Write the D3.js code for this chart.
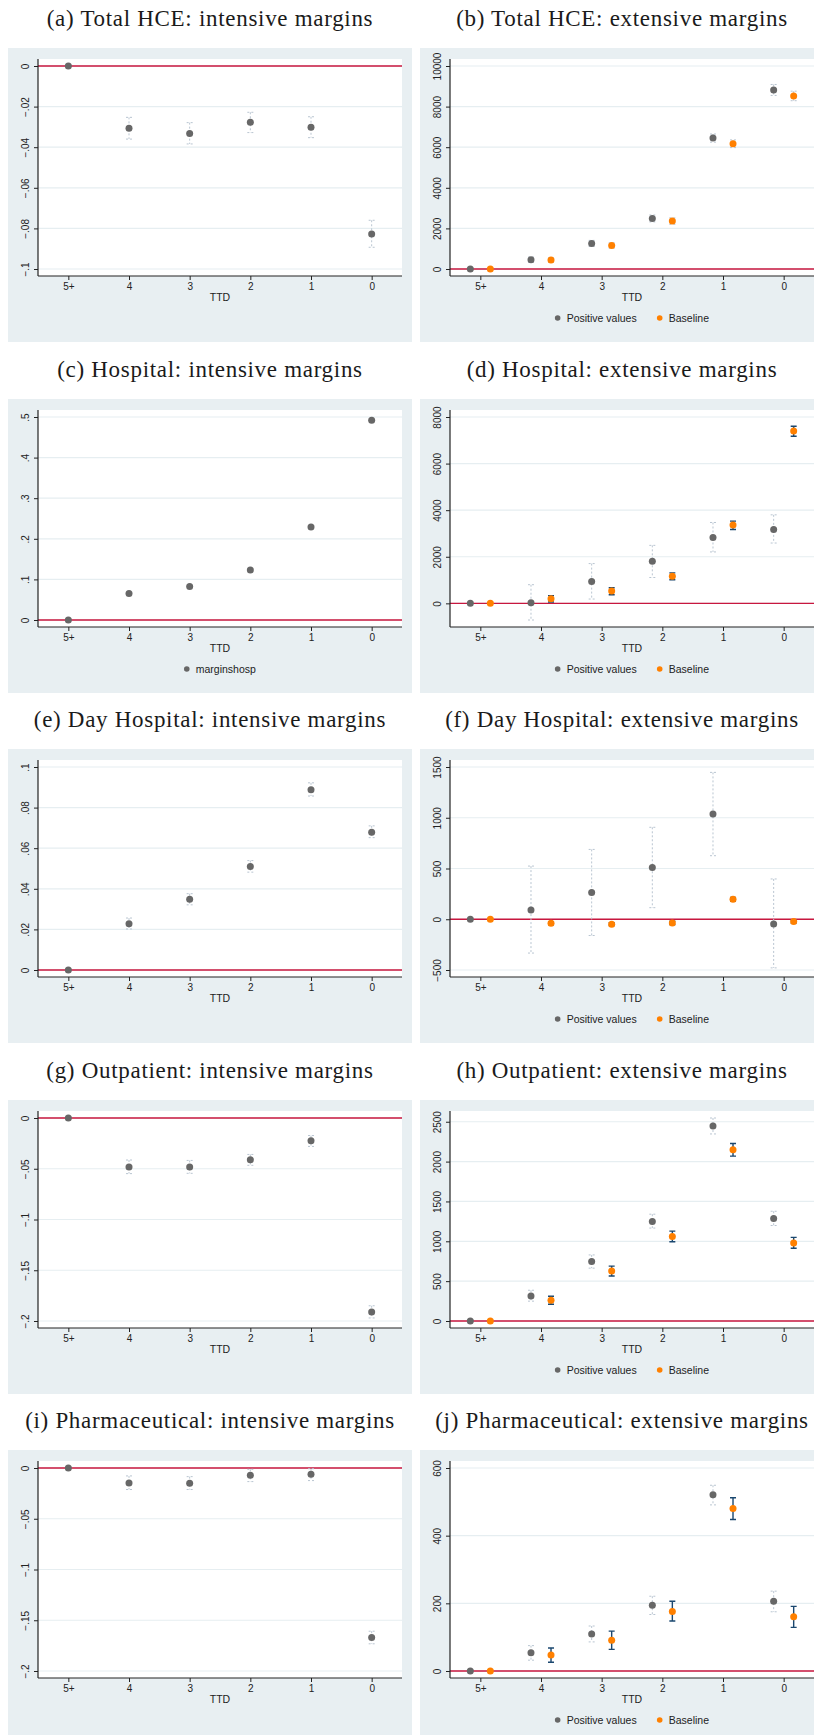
<!DOCTYPE html>
<html>
<head>
<meta charset="utf-8">
<script src="https://cdn.jsdelivr.net/npm/d3@7"></script>
<style>
  body { margin: 0; background: #fff; }
  svg { display: block; }
</style>
</head>
<body>
<div id="chart"></div>
<script>
// categories on the x axis (time to death)
var ttd = ["5+", "4", "3", "2", "1", "0"]

// (a) Total HCE: intensive
var totIntEst = [0, -0.0307, -0.0332, -0.0277, -0.0302, -0.0828]
var totIntLo  = [0, -0.0360, -0.0384, -0.0328, -0.0353, -0.0893]
var totIntHi  = [0, -0.0253, -0.0279, -0.0228, -0.0250, -0.0760]
var totIntTicks = [0, -0.02, -0.04, -0.06, -0.08, -0.1]

// (b) Total HCE: extensive
var totExtPos   = [0, 460, 1260, 2490, 6450, 8820]
var totExtPosLo = [0, 330, 1110, 2320, 6250, 8550]
var totExtPosHi = [0, 590, 1410, 2660, 6650, 9090]
var totExtBase   = [0, 440, 1160, 2360, 6170, 8525]
var totExtBaseLo = [0, 330, 1030, 2200, 5980, 8290]
var totExtBaseHi = [0, 550, 1290, 2520, 6360, 8760]
var totExtTicks = [0, 2000, 4000, 6000, 8000, 10000]

// (c) Hospital: intensive
var hospIntEst = [0, 0.065, 0.0825, 0.123, 0.229, 0.492]
var hospIntTicks = [0, 0.1, 0.2, 0.3, 0.4, 0.5]

// (d) Hospital: extensive
var hospExtPos   = [0, 30, 940, 1806, 2832, 3173]
var hospExtPosLo = [0, -715, 185, 1110, 2207, 2590]
var hospExtPosHi = [0, 800, 1707, 2490, 3472, 3800]
var hospExtBase   = [0, 200, 525, 1166, 3360, 7400]
var hospExtBaseLo = [0, 60, 370, 1010, 3173, 7175]
var hospExtBaseHi = [0, 330, 670, 1310, 3530, 7600]
var hospExtTicks = [0, 2000, 4000, 6000, 8000]

// (e) Day Hospital: intensive
var dayIntEst = [0, 0.0228, 0.0349, 0.051, 0.0888, 0.0679]
var dayIntLo  = [0, 0.0202, 0.0321, 0.0482, 0.0857, 0.0652]
var dayIntHi  = [0, 0.0256, 0.0376, 0.0539, 0.0922, 0.0710]
var dayIntTicks = [0, 0.02, 0.04, 0.06, 0.08, 0.1]

// (f) Day Hospital: extensive
var dayExtPos   = [0, 91, 264, 509, 1037, -46]
var dayExtPosLo = [0, -333, -160, 114, 626, -479]
var dayExtPosHi = [0, 524, 688, 906, 1447, 397]
var dayExtBase   = [0, -39, -49, -36, 196, -23]
var dayExtBaseLo = [0, -55, -63, -52, 176, -38]
var dayExtBaseHi = [0, -23, -35, -20, 216, -8]
var dayExtTicks = [-500, 0, 500, 1000, 1500]

// (g) Outpatient: intensive
var outIntEst = [0, -0.0483, -0.0483, -0.0411, -0.0225, -0.1912]
var outIntLo  = [0, -0.0548, -0.0545, -0.0466, -0.0280, -0.1970]
var outIntHi  = [0, -0.0414, -0.0418, -0.0359, -0.0173, -0.1850]
var outIntTicks = [0, -0.05, -0.1, -0.15, -0.2]

// (h) Outpatient: extensive
var outExtPos   = [0, 315, 746, 1248, 2447, 1285]
var outExtPosLo = [0, 249, 663, 1166, 2347, 1198]
var outExtPosHi = [0, 386, 829, 1340, 2547, 1377]
var outExtBase   = [0, 261, 626, 1061, 2148, 979]
var outExtBaseLo = [0, 211, 564, 995, 2069, 912]
var outExtBaseHi = [0, 311, 688, 1128, 2227, 1049]
var outExtTicks = [0, 500, 1000, 1500, 2000, 2500]

// (i) Pharmaceutical: intensive
var phIntEst = [0, -0.0147, -0.015, -0.0072, -0.0062, -0.167]
var phIntLo  = [0, -0.0212, -0.0212, -0.0134, -0.0124, -0.1732]
var phIntHi  = [0, -0.0078, -0.0085, -0.0013, -0.0007, -0.1608]
var phIntTicks = [0, -0.05, -0.1, -0.15, -0.2]

// (j) Pharmaceutical: extensive
var phExtPos   = [0, 54, 109, 194, 521, 206]
var phExtPosLo = [0, 32, 86, 167, 491, 175]
var phExtPosHi = [0, 75, 133, 221, 549, 236]
var phExtBase   = [0, 47, 91, 176, 480, 160]
var phExtBaseLo = [0, 26, 64, 148, 448, 129]
var phExtBaseHi = [0, 68, 118, 206, 512, 191]
var phExtTicks = [0, 200, 400, 600]

// colours
var grayDot = "#676767"
var orangeDot = "#ff8000"
var ciLight = "#b9c5d1"
var ciNavy = "#1a476f"
var panelBg = "#e8eff2"
var gridCol = "#e6eef1"
var zeroCol = "#c8173f"

var width = 814
var height = 1735
var rowTops = [48, 399, 749, 1100, 1450]
var panelW = 404, panelH = 294

var panels = [
  {title: "(a) Total HCE: intensive margins", col: 0, row: 0, ticks: totIntTicks,
   pos: {est: totIntEst, lo: totIntLo, hi: totIntHi}},
  {title: "(b) Total HCE: extensive margins", col: 1, row: 0, ticks: totExtTicks,
   pos: {est: totExtPos, lo: totExtPosLo, hi: totExtPosHi},
   base: {est: totExtBase, lo: totExtBaseLo, hi: totExtBaseHi, ci: ciLight}},
  {title: "(c) Hospital: intensive margins", col: 0, row: 1, ticks: hospIntTicks,
   pos: {est: hospIntEst}, legend: ["marginshosp"]},
  {title: "(d) Hospital: extensive margins", col: 1, row: 1, ticks: hospExtTicks,
   pos: {est: hospExtPos, lo: hospExtPosLo, hi: hospExtPosHi},
   base: {est: hospExtBase, lo: hospExtBaseLo, hi: hospExtBaseHi, ci: ciNavy}},
  {title: "(e) Day Hospital: intensive margins", col: 0, row: 2, ticks: dayIntTicks,
   pos: {est: dayIntEst, lo: dayIntLo, hi: dayIntHi}},
  {title: "(f) Day Hospital: extensive margins", col: 1, row: 2, ticks: dayExtTicks,
   pos: {est: dayExtPos, lo: dayExtPosLo, hi: dayExtPosHi},
   base: {est: dayExtBase, lo: dayExtBaseLo, hi: dayExtBaseHi, ci: ciNavy}},
  {title: "(g) Outpatient: intensive margins", col: 0, row: 3, ticks: outIntTicks,
   pos: {est: outIntEst, lo: outIntLo, hi: outIntHi}},
  {title: "(h) Outpatient: extensive margins", col: 1, row: 3, ticks: outExtTicks,
   pos: {est: outExtPos, lo: outExtPosLo, hi: outExtPosHi},
   base: {est: outExtBase, lo: outExtBaseLo, hi: outExtBaseHi, ci: ciNavy}},
  {title: "(i) Pharmaceutical: intensive margins", col: 0, row: 4, ticks: phIntTicks,
   pos: {est: phIntEst, lo: phIntLo, hi: phIntHi}},
  {title: "(j) Pharmaceutical: extensive margins", col: 1, row: 4, ticks: phExtTicks,
   pos: {est: phExtPos, lo: phExtPosLo, hi: phExtPosHi},
   base: {est: phExtBase, lo: phExtBaseLo, hi: phExtBaseHi, ci: ciNavy}}
]

// stata style labels: .5, -.02 etc
function stataFmt(v) {
  if (v == 0) return "0"
  var s = String(+v.toPrecision(6))
  s = s.replace(/^(-?)0\./, "$1.")
  return s.replace("-", "\u2212")
}

var svg = d3.select("#chart")
  .append("svg")
    .attr("width", width)
    .attr("height", height)
    .style("background", "#fff")

panels.forEach(function(p) {
  var px0 = p.col == 0 ? 8 : 420
  var T = rowTops[p.row]
  var axisX = px0 + 30
  var plotRight = px0 + panelW - 10
  var g = svg.append("g")

  // panel background
  g.append("rect")
    .attr("x", px0).attr("y", T)
    .attr("width", panelW).attr("height", panelH)
    .attr("fill", panelBg)

  // title
  g.append("text")
    .attr("x", px0 + panelW / 2)
    .attr("y", T - 22)
    .attr("text-anchor", "middle")
    .style("font-family", "'Liberation Serif', 'Times New Roman', serif")
    .style("font-size", "23px")
    .style("letter-spacing", "0.7px")
    .attr("fill", "#1a1a1a")
    .text(p.title)

  // plot region
  g.append("rect")
    .attr("x", axisX).attr("y", T + 11)
    .attr("width", plotRight - axisX).attr("height", 217)
    .attr("fill", "#fff")

  var x = d3.scaleLinear().domain([-0.5, 5.5]).range([axisX, plotRight])

  var all = p.ticks.concat(p.pos.est)
  if (p.pos.lo) all = all.concat(p.pos.lo, p.pos.hi)
  if (p.base) all = all.concat(p.base.est, p.base.lo, p.base.hi)
  var y = d3.scaleLinear().domain(d3.extent(all)).range([T + 221, T + 18])

  // gridlines
  g.selectAll(".grid")
    .data(p.ticks)
    .enter()
    .append("line")
      .attr("x1", axisX).attr("x2", plotRight)
      .attr("y1", function(d) { return y(d) })
      .attr("y2", function(d) { return y(d) })
      .attr("stroke", gridCol)
      .attr("stroke-width", 1.2)

  // zero line
  g.append("line")
    .attr("x1", axisX).attr("x2", plotRight)
    .attr("y1", y(0)).attr("y2", y(0))
    .attr("stroke", zeroCol)
    .attr("stroke-width", 1.4)

  // y axis
  var yAxis = g.append("g")
    .attr("transform", "translate(" + axisX + ",0)")
    .call(d3.axisLeft(y).tickValues(p.ticks).tickSize(4).tickFormat(stataFmt))
  yAxis.select(".domain").remove()
  yAxis.selectAll("line").attr("stroke", "#222")
  yAxis.selectAll("text")
    .attr("transform", "rotate(-90)")
    .attr("x", 0).attr("y", -13).attr("dy", "0.35em")
    .attr("text-anchor", "middle")
    .attr("fill", "#222")
    .style("font-family", "'Liberation Sans', Arial, sans-serif")
    .style("font-size", "10px")

  // x axis
  var xAxis = g.append("g")
    .attr("transform", "translate(0," + (T + 228) + ")")
    .call(d3.axisBottom(x).tickValues(d3.range(ttd.length)).tickSize(4)
      .tickFormat(function(i) { return ttd[i] }))
  xAxis.select(".domain").remove()
  xAxis.selectAll("line").attr("stroke", "#222")
  xAxis.selectAll("text")
    .attr("y", 14).attr("dy", 0)
    .attr("fill", "#222")
    .style("font-family", "'Liberation Sans', Arial, sans-serif")
    .style("font-size", "10px")

  // axis lines
  g.append("line")
    .attr("x1", axisX).attr("x2", axisX)
    .attr("y1", T + 11).attr("y2", T + 228)
    .attr("stroke", "#222").attr("stroke-width", 1.2)
  g.append("line")
    .attr("x1", axisX).attr("x2", plotRight)
    .attr("y1", T + 228).attr("y2", T + 228)
    .attr("stroke", "#222").attr("stroke-width", 1.2)

  g.append("text")
    .attr("x", (axisX + plotRight) / 2)
    .attr("y", T + 252.5)
    .attr("text-anchor", "middle")
    .attr("fill", "#222")
    .style("font-family", "'Liberation Sans', Arial, sans-serif")
    .style("font-size", "10.5px")
    .text("TTD")

  // series: gray (positive values), orange (baseline)
  var series = [{s: p.pos, color: grayDot, ci: ciLight, dash: "2,2", off: p.base ? -0.165 : 0}]
  if (p.base) series.push({s: p.base, color: orangeDot, ci: p.base.ci,
    dash: p.base.ci == ciNavy ? null : "2,2", off: 0.165})

  series.forEach(function(sr) {
    if (sr.s.lo) {
      var idx = d3.range(ttd.length).filter(function(i) { return sr.s.lo[i] != sr.s.hi[i] })
      var ci = g.append("g")
        .attr("stroke", sr.ci)
        .attr("stroke-width", sr.dash ? 1 : 1.4)
        .attr("fill", "none")
      ci.selectAll("path")
        .data(idx)
        .enter()
        .append("path")
          .attr("stroke-dasharray", sr.dash)
          .attr("d", function(i) {
            var cx = x(i + sr.off), w = 3
            return "M" + (cx - w) + "," + y(sr.s.hi[i]) + "H" + (cx + w) +
              "M" + cx + "," + y(sr.s.hi[i]) + "V" + y(sr.s.lo[i]) +
              "M" + (cx - w) + "," + y(sr.s.lo[i]) + "H" + (cx + w)
          })
    }
    g.selectAll(null)
      .data(sr.s.est)
      .enter()
      .append("circle")
        .attr("cx", function(d, i) { return x(i + sr.off) })
        .attr("cy", function(d) { return y(d) })
        .attr("r", 3.5)
        .attr("fill", sr.color)
  })

  // legend
  var labels = p.legend || (p.base ? ["Positive values", "Baseline"] : null)
  if (labels) {
    var lg = g.append("g")
    var cursor = 0
    labels.forEach(function(lab, k) {
      lg.append("circle")
        .attr("cx", cursor).attr("cy", 0).attr("r", 2.8)
        .attr("fill", k == 0 ? grayDot : orangeDot)
      var t = lg.append("text")
        .attr("x", cursor + 9).attr("y", 3.6)
        .attr("fill", "#222")
        .style("font-family", "'Liberation Sans', Arial, sans-serif")
        .style("font-size", "10.5px")
        .text(lab)
      cursor += 9 + t.node().getComputedTextLength() + 23
    })
    var bb = lg.node().getBBox()
    var cx = (axisX + plotRight) / 2
    lg.attr("transform", "translate(" + (cx - bb.x - bb.width / 2) + "," + (T + 270) + ")")
  }
})
</script>
</body>
</html>
